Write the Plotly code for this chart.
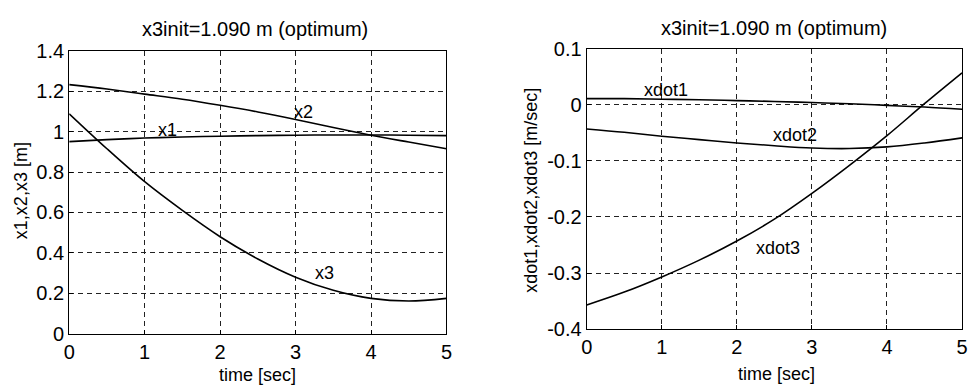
import plotly.graph_objects as go

t = [0, 0.5, 1, 1.5, 2, 2.5, 3, 3.5, 4, 4.5, 5]
x1 = [0.950, 0.960, 0.968, 0.973, 0.977, 0.980, 0.982, 0.983, 0.983, 0.982, 0.980]
x2 = [1.232, 1.210, 1.185, 1.160, 1.130, 1.097, 1.060, 1.020, 0.982, 0.948, 0.915]
x3 = [1.088, 0.915, 0.752, 0.610, 0.480, 0.370, 0.280, 0.215, 0.175, 0.162, 0.175]
xdot1 = [0.011, 0.011, 0.010, 0.009, 0.0075, 0.006, 0.004, 0.002, -0.001, -0.004, -0.008]
xdot2 = [-0.043, -0.049, -0.056, -0.062, -0.068, -0.073, -0.077, -0.078, -0.075, -0.068, -0.059]
xdot3 = [-0.357, -0.334, -0.307, -0.277, -0.243, -0.204, -0.158, -0.108, -0.055, 0.002, 0.057]

title_text = "x3init=1.090 m (optimum)"
xlabel = "time [sec]"
ylabel_left = "x1,x2,x3 [m]"
ylabel_right = "xdot1,xdot2,xdot3 [m/sec]"

W, H = 971, 392
def px(x):
    return x / W
def py(y):
    return 1 - y / H

font = dict(family="Liberation Sans, Arial, sans-serif", color="black")

fig = go.Figure()
line = dict(color="black", width=1.6)
for y in (x1, x2, x3):
    fig.add_trace(go.Scatter(x=t, y=y, mode="lines", line=line, line_shape="spline", xaxis="x", yaxis="y", showlegend=False))
for y in (xdot1, xdot2, xdot3):
    fig.add_trace(go.Scatter(x=t, y=y, mode="lines", line=line, line_shape="spline", xaxis="x2", yaxis="y2", showlegend=False))

axis_common = dict(
    showline=True, linecolor="black", linewidth=1.2, mirror=True,
    showgrid=True, gridcolor="#222", griddash="5px,4px", gridwidth=1,
    zeroline=False, ticks="inside", ticklen=4, tickcolor="black",
    tickfont=dict(size=20, **font),
)

fig.update_layout(
    width=W, height=H, margin=dict(l=0, r=0, t=0, b=0),
    paper_bgcolor="white", plot_bgcolor="white",
    xaxis=dict(domain=[px(64), px(446)], range=[0, 5], tickvals=[0, 1, 2, 3, 4, 5], anchor="y", **axis_common),
    yaxis=dict(domain=[py(342), py(42)], range=[0, 1.4], tickvals=[0, 0.2, 0.4, 0.6, 0.8, 1, 1.2, 1.4],
               ticktext=["0", "0.2", "0.4", "0.6", "0.8", "1", "1.2", "1.4"], anchor="x", **axis_common),
    xaxis2=dict(domain=[px(588), px(968)], range=[0, 5], tickvals=[0, 1, 2, 3, 4, 5], anchor="y2", **axis_common),
    yaxis2=dict(domain=[py(337), py(40)], range=[-0.4, 0.1], tickvals=[-0.4, -0.3, -0.2, -0.1, 0, 0.1],
                ticktext=["-0.4", "-0.3", "-0.2", "-0.1", "0", "0.1"], anchor="x2", **axis_common),
)

ann = []
def A(x, y, text, size=18, angle=0, xref="paper", yref="paper"):
    ann.append(dict(x=x, y=y, xref=xref, yref=yref, text=text, showarrow=False, textangle=angle,
                    font=dict(size=size, **font), xanchor="center", yanchor="middle"))

A(px(252), py(19), title_text, 20)
A(px(778), py(18), title_text, 20)
A(px(255), py(386), xlabel, 18)
A(px(780), py(385), xlabel, 18)
A(px(16), py(190), ylabel_left, 18, -90)
A(px(532), py(190), ylabel_right, 18, -90)

A(1.3, 1.01, "x1", 18, xref="x", yref="y")
A(3.1, 1.097, "x2", 18, xref="x", yref="y")
A(3.38, 0.30, "x3", 18, xref="x", yref="y")
A(1.05, 0.027, "xdot1", 18, xref="x2", yref="y2")
A(2.78, -0.054, "xdot2", 18, xref="x2", yref="y2")
A(2.55, -0.256, "xdot3", 18, xref="x2", yref="y2")

fig.update_layout(annotations=ann)
fig.write_html("out.html")
